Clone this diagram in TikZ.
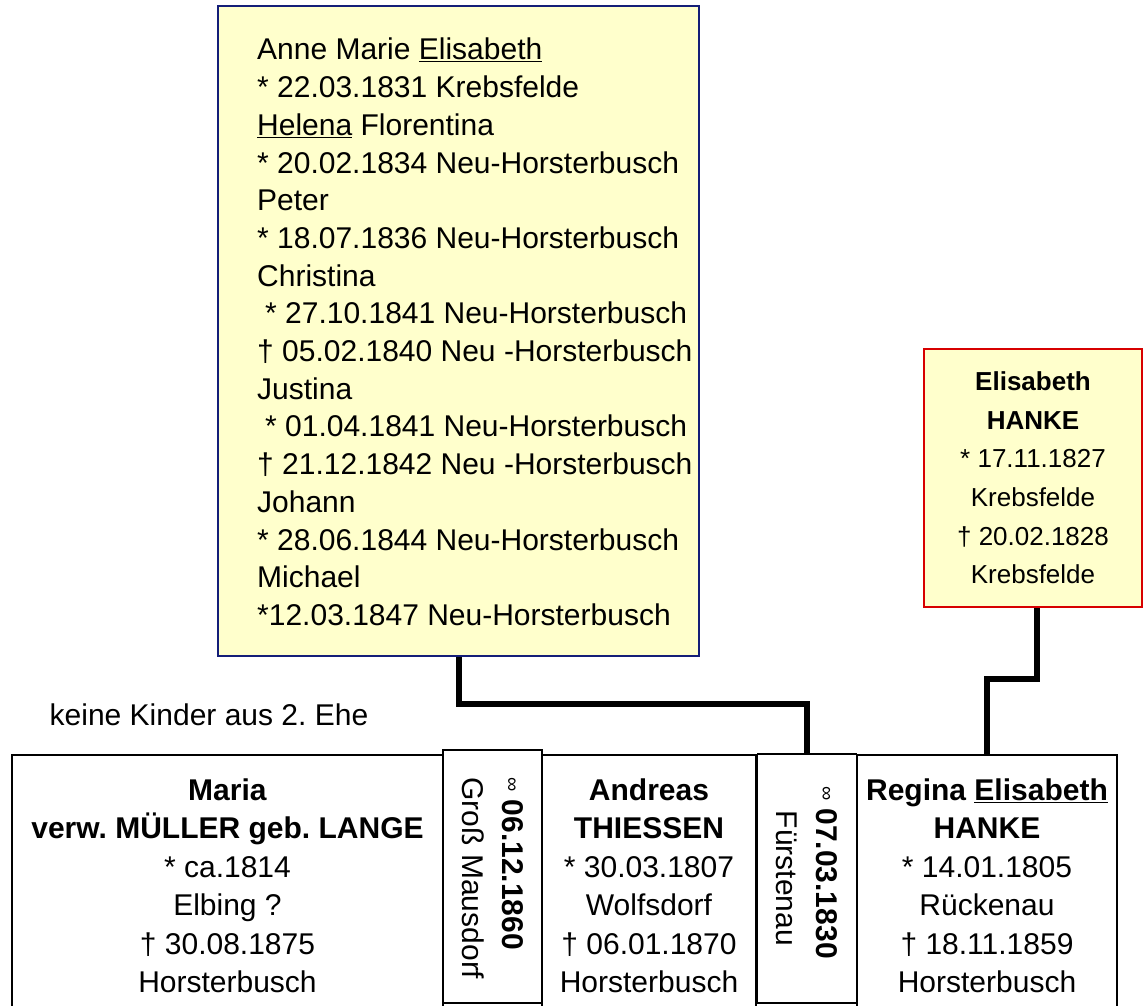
\documentclass[tikz,border=0pt]{standalone}
\usepackage{fontspec}
\setmainfont{Liberation Sans}
\usepackage{tikz}
\frenchspacing

\definecolor{paleyellow}{RGB}{255,255,204}
\definecolor{boxnavy}{RGB}{20,30,120}
\definecolor{boxred}{RGB}{215,0,0}

\newcommand{\wedsym}{\raisebox{4pt}{\fontsize{20}{20}\selectfont ∞}\hspace{8pt}}

\tikzset{
	person/.style={draw, line width=1.5pt, align=center, anchor=north, inner sep=0pt,
		minimum height=262pt, font=\fontsize{30}{38.5}\selectfont},
	wedbox/.style={draw, line width=1.5pt, align=center, rotate=-90, inner sep=0pt,
		minimum height=99pt, font=\fontsize{30}{40}\selectfont},
	kidbox/.style={draw=boxnavy, fill=paleyellow, line width=2pt, inner sep=0pt},
	deadbox/.style={draw=boxred, fill=paleyellow, line width=2pt, inner sep=0pt, align=center,
		font=\fontsize{26}{38.6}\selectfont},
	link/.style={line width=6pt}
}

\begin{document}
\begin{tikzpicture}[x=1pt, y=-1pt]
	\useasboundingbox (0,0) rectangle (1144,1006);
	
	\node [kidbox, anchor=north west, minimum width=481pt, minimum height=650pt] (kids) at (217,5) {};
	\node [anchor=north west, align=left, inner sep=0pt, font=\fontsize{30}{37.7}\selectfont] (kidstxt) at (257,38)
		{Anne Marie \underline{Elisabeth}\\
		 * 22.03.1831 Krebsfelde\\
		 \underline{Helena} Florentina\\
		 * 20.02.1834 Neu-Horsterbusch\\
		 Peter\\
		 * 18.07.1836 Neu-Horsterbusch\\
		 Christina\\
		 \hspace*{8pt}* 27.10.1841 Neu-Horsterbusch\\
		 † 05.02.1840 Neu -Horsterbusch\\
		 Justina\\
		 \hspace*{8pt}* 01.04.1841 Neu-Horsterbusch\\
		 † 21.12.1842 Neu -Horsterbusch\\
		 Johann\\
		 * 28.06.1844 Neu-Horsterbusch\\
		 Michael\\
		 *12.03.1847 Neu-Horsterbusch};
	
	\node [deadbox, minimum width=218pt, minimum height=258pt] (lisa) at (1033,478)
		{\textbf{Elisabeth}\\ \textbf{HANKE}\\ * 17.11.1827\\ Krebsfelde\\ † 20.02.1828\\ Krebsfelde};
	
	\node (nokids) at (209,715) {\fontsize{30}{36}\selectfont keine Kinder aus 2. Ehe};
	
	\node [person, minimum width=431pt] (maria) at (227.5,754)
		{\textbf{Maria}\\ \textbf{verw. MÜLLER geb. LANGE}\\ * ca.1814\\ Elbing ?\\ † 30.08.1875\\ Horsterbusch};
	\node [wedbox, align=left, minimum width=253pt] (wed1) at (492.5,876.5)
		{\hspace*{4pt}\wedsym\textbf{06.12.1860}\\ \hspace*{4pt}Groß Mausdorf};
	\node [person, minimum width=214pt] (andreas) at (649,754)
		{\textbf{Andreas}\\ \textbf{THIESSEN}\\ * 30.03.1807\\ Wolfsdorf\\ † 06.01.1870\\ Horsterbusch};
	\node [wedbox, minimum width=249pt] (wed2) at (807,878.5)
		{\wedsym\textbf{07.03.1830}\hspace*{12pt}\\ Fürstenau};
	\node [person, minimum width=260pt] (regina) at (987,754)
		{\textbf{Regina \underline{Elisabeth}}\\ \textbf{HANKE}\\ * 14.01.1805\\ Rückenau\\ † 18.11.1859\\ Horsterbusch};
	
	\coordinate (knee1) at (0,704);
	\coordinate (knee2) at (1037,679);
	\draw [link] (kids.south) -- (kids.south |- knee1) -| (wed2.west);
	\draw [link] (lisa.south -| knee2) -- (knee2) -| (regina.north);
\end{tikzpicture}
\end{document}
